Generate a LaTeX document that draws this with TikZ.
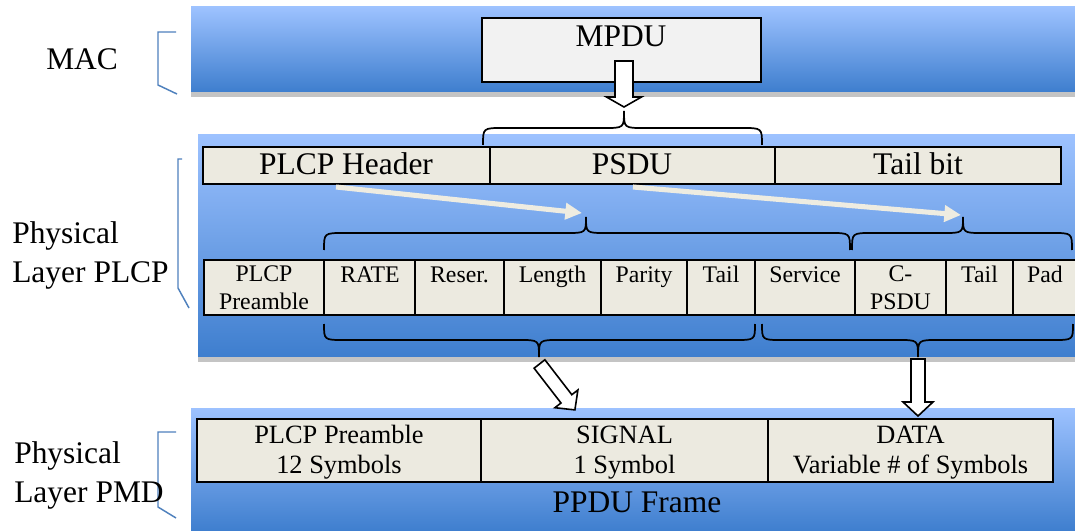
\documentclass[tikz,border=0pt]{standalone}
\usepackage{fontspec}
\setmainfont{Liberation Serif}
\usetikzlibrary{arrows.meta,fit}

\definecolor{bandtop}{RGB}{157,194,255}
\definecolor{bandmid}{RGB}{118,163,234}
\definecolor{bandbot}{RGB}{62,126,206}
\definecolor{cellfill}{RGB}{236,234,224}
\definecolor{mpdufill}{RGB}{242,242,242}
\definecolor{bracketblue}{RGB}{79,129,189}
\definecolor{stripe}{RGB}{196,196,196}
\definecolor{flow}{RGB}{238,236,225}

\newcommand{\fbig}{\fontsize{23.6}{29.25}\selectfont}
\newcommand{\fcell}{\fontsize{17.85}{21}\selectfont}
\newcommand{\fsym}{\fontsize{19.8}{22.5}\selectfont}

% curly brace: x1, x2, x of tip, y of tip, y of arms, y of ends
\newcommand{\curlybrace}[6]{%
  \draw[bracepath] (#1,#6) .. controls (#1,#5) .. (#1+20,#5) -- (#3-20,#5)
    .. controls (#3,#5) .. (#3,#4) .. controls (#3,#5) .. (#3+20,#5)
    -- (#2-20,#5) .. controls (#2,#5) .. (#2,#6);}

\begin{document}
\begin{tikzpicture}[x=0.75pt,y=-0.75pt,
  cell/.style={draw=black, line width=1.6pt, fill=cellfill, inner sep=0pt},
  txt/.style={inner sep=0pt, anchor=base, align=center},
  layername/.style={inner sep=0pt, anchor=base west, align=left, font=\fbig},
  bracepath/.style={draw=black, line width=1.3pt},
  bracket/.style={draw=bracketblue, line width=1.1pt},
  blockarrow/.style={draw=black, line width=1.2pt, fill=white, line join=miter},
  flowarrow/.style={draw=flow, line width=3.8pt, -{Triangle[length=12.5pt,width=12pt]}},
  band/.style={top color=bandtop, middle color=bandmid, bottom color=bandbot}]

\useasboundingbox (0,0) rectangle (1075,531);
\fill[white] (0,0) rectangle (1075,531);
\clip (0,0) rectangle (1075,531);

% layer bands
\shade[band] (191,7) rectangle (1076,92);
\fill[stripe] (191,92) rectangle (1076,97);
\shade[band] (198,135) rectangle (1076,357);
\fill[stripe] (198,357) rectangle (1076,362);
\shade[band] (191,408) rectangle (1076,532);

% layer brackets
\draw[bracket] (176,32) -- (158,32) -- (158,85) -- (177,94);
\draw[bracket] (182,159) -- (178,159) -- (178,288) -- (189,308);
\draw[bracket] (176,432) -- (158,432) -- (158,507) -- (176,518);

% layer names (anchored on the baseline of the last line)
\node[layername] (mac) at (46,70) {MAC};
\node[layername] (plcp) at (12,282) {Physical\\Layer PLCP};
\node[layername] (pmd) at (14,502) {Physical\\Layer PMD};

% MAC layer
\node[draw=black, line width=1.6pt, fill=mpdufill, inner sep=0pt,
      fit={(482,18)(761,82)}] (mpdu) {};
\node[txt, font=\fbig] (mpdutxt) at (621,47) {MPDU};

% PLCP header row
\node[cell, fit={(203,147)(490,184)}] (hdr) {};
\node[cell, fit={(490,147)(775,184)}] (psdu) {};
\node[cell, fit={(775,147)(1061,184)}] (tailbit) {};
\node[txt, font=\fbig] at (346,175) {PLCP Header};
\node[txt, font=\fbig] at (632,175) {PSDU};
\node[txt, font=\fbig] at (918,175) {Tail bit};

% PLCP field row
\node[cell, fit={(204,260)(324,315)}] (pre) {};
\node[cell, fit={(324,260)(415,315)}] (rate) {};
\node[cell, fit={(415,260)(504,315)}] (res) {};
\node[cell, fit={(504,260)(601,315)}] (len) {};
\node[cell, fit={(601,260)(687,315)}] (par) {};
\node[cell, fit={(687,260)(755,315)}] (tla) {};
\node[cell, fit={(755,260)(855,315)}] (svc) {};
\node[cell, fit={(855,260)(946,315)}] (cpsdu) {};
\node[cell, fit={(946,260)(1013,315)}] (tlb) {};
\node[cell, fit={(1013,260)(1082,315)}] (pad) {};
\node[txt, font=\fcell] at (264,310) {PLCP\\Preamble};
\node[txt, font=\fcell] at (370,282) {RATE};
\node[txt, font=\fcell] at (459.5,282) {Reser.};
\node[txt, font=\fcell] at (552.5,282) {Length};
\node[txt, font=\fcell] at (644,282) {Parity};
\node[txt, font=\fcell] at (721,282) {Tail};
\node[txt, font=\fcell] at (805,282) {Service};
\node[txt, font=\fcell] at (900.5,310) {C-\\PSDU};
\node[txt, font=\fcell] at (979.5,282) {Tail};
\node[txt, font=\fcell] at (1045,282) {Pad};

% PMD frame row
\node[cell, fit={(197,419)(481,482)}] (pmdpre) {};
\node[cell, fit={(481,419)(768,482)}] (signal) {};
\node[cell, fit={(768,419)(1053,482)}] (data) {};
\node[txt, font=\fsym] at (339,473) {PLCP Preamble\\12 Symbols};
\node[txt, font=\fsym] at (624.5,473) {SIGNAL\\1 Symbol};
\node[txt, font=\fsym] at (910.5,473) {DATA\\Variable \# of Symbols};
\node[txt, font=\fbig] (ppdu) at (637,512) {PPDU Frame};

% braces
\curlybrace{483}{762}{624}{111}{128}{145}
\curlybrace{324}{850}{586}{217}{233}{250}
\curlybrace{852}{1072}{963}{217}{233}{250}
\curlybrace{324}{755}{539}{357}{340}{324}
\curlybrace{762}{1073}{918}{357}{340}{324}

% light flow arrows from the header fields to their braces
\coordinate (hdrfoot) at (336,187);
\coordinate (psdufoot) at (633,187);
\coordinate (braceA) at (582,213);
\coordinate (braceB) at (961,215);
\draw[flowarrow] (hdrfoot) -- (braceA);
\draw[flowarrow] (psdufoot) -- (braceB);

% block arrows
\draw[blockarrow] (615,61) -- (633,61) -- (633,97) -- (641.5,97) -- (624,107)
  -- (606.5,97) -- (615,97) -- cycle;
\draw[blockarrow] (544.9,359.8) -- (571.8,394.7) -- (577.9,390.0) -- (574.9,409.9)
  -- (554.9,407.7) -- (561.0,403.0) -- (534.1,368.2) -- cycle;
\draw[blockarrow] (911,359) -- (925,359) -- (925,402) -- (933,402) -- (918,416)
  -- (903,402) -- (911,402) -- cycle;
\end{tikzpicture}
\end{document}
